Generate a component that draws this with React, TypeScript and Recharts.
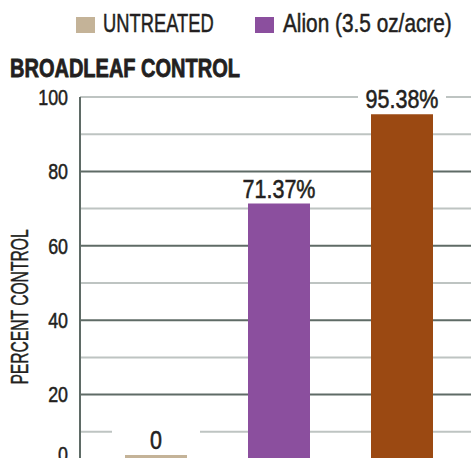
import React from 'react';
import { BarChart, Bar, XAxis, YAxis, CartesianGrid, LabelList, Cell } from 'recharts';

const categories = ['UNTREATED', 'Alion (3.5 oz/acre)', 'Alion + tank mix'];
const percentControl = [0, 71.37, 95.38];
const valueLabels = ['0', '71.37%', '95.38%'];
const barColors = ['#C4B398', '#8B4F9E', '#9B4912'];
const legendLabels = ['UNTREATED', 'Alion (3.5 oz/acre)'];
const legendColors = ['#C4B398', '#8B4F9E'];
const yTicks = [0, 20, 40, 60, 80, 100];
const minorLines = [10, 30, 50, 70, 90, 100];
const majorLines = [20, 40, 60, 80];
const chartTitle = 'BROADLEAF CONTROL';
const yAxisTitle = 'PERCENT CONTROL';

const data = categories.map((name, i) => ({ name, value: percentControl[i], label: valueLabels[i] }));

const FONT = "'Liberation Sans', Arial, sans-serif";
const TEXT = '#231F20';

const YTick = (props: any) => {
  const { x, y, payload } = props;
  const yy = payload.value === 0 ? y - 15 : y;
  return (
    <text
      transform={`translate(${x}, ${yy}) scale(0.83, 1)`}
      x={0}
      y={0}
      dy="0.36em"
      textAnchor="end"
      fontFamily={FONT}
      fontSize={21.5}
      fill={TEXT}
      stroke={TEXT}
      strokeWidth={0.5}
    >
      {payload.value}
    </text>
  );
};

const BarValueLabel = (props: any) => {
  const { x, y, width, value } = props;
  const cx = Number(x) + Number(width) / 2;
  const cy = Number(y) - 15;
  return (
    <g>
      <rect x={cx - 44} y={cy - 10} width={88} height={20} fill="#ffffff" />
      <text
        transform={`translate(${cx}, ${cy}) scale(0.86, 1)`}
        x={0}
        y={0}
        dy="0.36em"
        textAnchor="middle"
        fontFamily={FONT}
        fontSize={25}
        fill={TEXT}
        stroke={TEXT}
        strokeWidth={0.55}
      >
        {value}
      </text>
    </g>
  );
};

const YTitle = (props: any) => {
  const vb = props.viewBox || {};
  const cy = Number(vb.y) + Number(vb.height) / 2 + 24;
  const cx = 20;
  return (
    <text
      transform={`translate(${cx}, ${cy}) rotate(-90) scale(0.68, 1)`}
      x={0}
      y={0}
      dy="0.36em"
      textAnchor="middle"
      fontFamily={FONT}
      fontSize={23}
      fill={TEXT}
      stroke={TEXT}
      strokeWidth={0.45}
    >
      {yAxisTitle}
    </text>
  );
};

const legendSquareLefts = [76, 255];
const legendTextLefts = [102.5, 283];
const legendTextScale = [0.705, 0.8];

export default function App() {
  return (
    <div
      style={{
        position: 'absolute',
        left: 0,
        top: 0,
        width: 471,
        height: 458,
        overflow: 'hidden',
        background: '#ffffff',
      }}
    >
      {legendLabels.map((lab, i) => (
        <React.Fragment key={lab}>
          <div
            style={{
              position: 'absolute',
              left: legendSquareLefts[i],
              top: 17,
              width: 19,
              height: 16,
              background: legendColors[i],
            }}
          />
          <div
            style={{
              position: 'absolute',
              left: legendTextLefts[i],
              top: 10,
              fontFamily: FONT,
              fontSize: 26,
              lineHeight: '26px',
              color: TEXT,
              whiteSpace: 'nowrap',
              WebkitTextStroke: '0.5px #231F20',
              transform: `scaleX(${legendTextScale[i]})`,
              transformOrigin: '0 0',
            }}
          >
            {lab}
          </div>
        </React.Fragment>
      ))}
      <div
        style={{
          position: 'absolute',
          left: 10,
          top: 56,
          fontFamily: FONT,
          fontWeight: 'bold',
          fontSize: 25,
          lineHeight: '25px',
          color: TEXT,
          whiteSpace: 'nowrap',
          WebkitTextStroke: '0.8px #231F20',
          transform: 'scaleX(0.8)',
          transformOrigin: '0 0',
        }}
      >
        {chartTitle}
      </div>
      <div style={{ position: 'absolute', left: 0, top: 0 }}>
        <BarChart width={471} height={469} data={data} margin={{ top: 97, right: 0, bottom: 0, left: 0 }}>
          <CartesianGrid vertical={false} horizontalValues={minorLines} stroke="#BEC4C2" strokeWidth={2} />
          <CartesianGrid vertical={false} horizontalValues={majorLines} stroke="#5F6B66" strokeWidth={2} />
          <XAxis dataKey="name" hide padding={{ left: 14, right: 8 }} />
          <YAxis
            type="number"
            domain={[0, 100]}
            ticks={yTicks}
            interval={0}
            width={80}
            tickLine={false}
            tickSize={0}
            tickMargin={12}
            axisLine={{ stroke: '#5F6B66', strokeWidth: 2 }}
            tick={<YTick />}
            label={<YTitle />}
          />
          <Bar dataKey="value" barSize={62} minPointSize={14} isAnimationActive={false}>
            {data.map((d, i) => (
              <Cell key={d.name} fill={barColors[i]} />
            ))}
            <LabelList dataKey="label" content={<BarValueLabel />} />
          </Bar>
        </BarChart>
      </div>
    </div>
  );
}
